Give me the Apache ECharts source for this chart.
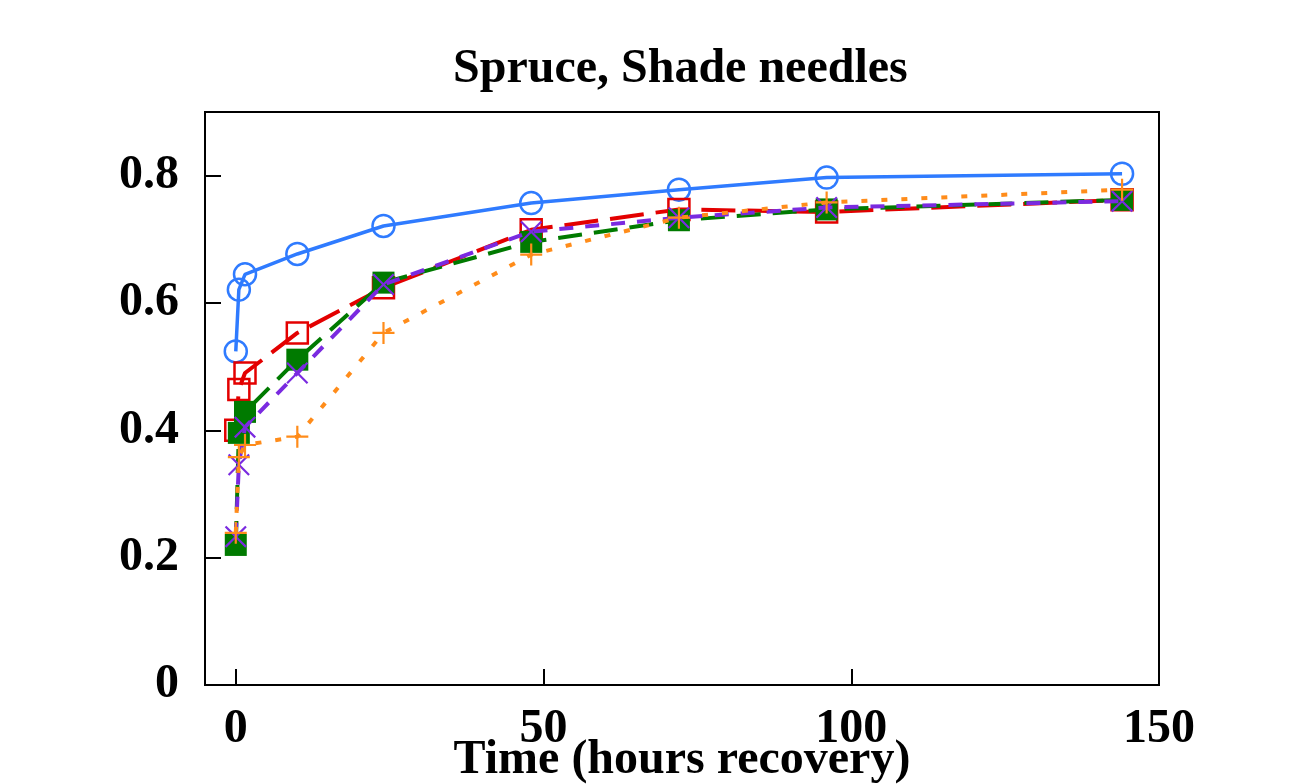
<!DOCTYPE html>
<html>
<head>
<meta charset="utf-8">
<script src="https://cdn.jsdelivr.net/npm/echarts@6/dist/echarts.min.js"></script>
<style>
html,body{margin:0;padding:0;background:#fff;}
#chart{width:1303px;height:784px;}
</style>
</head>
<body>
<div id="chart"></div>
<script>
const times = [0, 0.5, 1.5, 10, 24, 48, 72, 96, 144];
const blueVals   = [0.524, 0.621, 0.645, 0.677, 0.721, 0.757, 0.778, 0.797, 0.803];
const redVals    = [0.400, 0.464, 0.490, 0.553, 0.624, 0.715, 0.747, 0.743, 0.762];
const greenVals  = [0.220, 0.396, 0.429, 0.511, 0.632, 0.696, 0.730, 0.747, 0.762];
const purpleVals = [0.233, 0.346, 0.405, 0.490, 0.629, 0.712, 0.734, 0.750, 0.760];
const orangeVals = [0.239, 0.358, 0.377, 0.390, 0.553, 0.676, 0.734, 0.758, 0.778];
const xTickLabels = [0, 50, 100, 150];
const xTicks = [0, 50, 100];

const pts = v => times.map((t, i) => [t, v[i]]);
const font = '"Liberation Serif", "DejaVu Serif", serif';
const plusPath = 'path://M9,0H11V9H20V11H11V20H9V11H0V9H9Z';
const xPath = 'path://M0,1.4L1.4,0L10,8.6L18.6,0L20,1.4L11.4,10L20,18.6L18.6,20L10,11.4L1.4,20L0,18.6L8.6,10Z';

const chart = echarts.init(document.getElementById('chart'), null, {renderer: 'canvas'});
chart.setOption({
  animation: false,
  backgroundColor: '#fff',
  title: {
    text: 'Spruce, Shade needles',
    left: 448,
    top: 41,
    textStyle: {fontFamily: font, fontWeight: 'bold', fontSize: 48, color: '#000'}
  },
  grid: {
    left: 205, right: 144, top: 112, bottom: 99,
    outerBoundsMode: 'none', containLabel: false,
    show: true, borderColor: '#000', borderWidth: 2, backgroundColor: '#fff'
  },
  xAxis: {
    type: 'value', min: -5, max: 150,
    name: 'Time (hours recovery)', nameLocation: 'middle', nameGap: 52, nameMoveOverlap: false,
    nameTextStyle: {fontFamily: font, fontWeight: 'bold', fontSize: 48, color: '#000'},
    axisLine: {show: true, onZero: false, lineStyle: {color: '#000', width: 2}},
    axisTick: {show: true, inside: true, length: 16, customValues: xTicks, lineStyle: {color: '#000', width: 2}},
    axisLabel: {customValues: xTickLabels, fontFamily: font, fontWeight: 'bold', fontSize: 48, color: '#000', margin: 21},
    splitLine: {show: false}
  },
  yAxis: {
    type: 'value', min: 0, max: 0.9, interval: 0.2,
    axisLine: {show: true, onZero: false, lineStyle: {color: '#000', width: 2}},
    axisTick: {show: true, inside: true, length: 16, lineStyle: {color: '#000', width: 2}},
    axisLabel: {
      fontFamily: font, fontWeight: 'bold', fontSize: 48, color: '#000', margin: 26,
      formatter: v => (v > 0.85 ? '' : String(Math.round(v * 10) / 10))
    },
    splitLine: {show: false}
  },
  series: [
    {
      type: 'line', data: pts(blueVals), symbol: 'circle', symbolSize: 22,
      lineStyle: {color: '#2f7bff', width: 3.5, type: 'solid'},
      itemStyle: {color: 'rgba(0,0,0,0)', borderColor: '#2f7bff', borderWidth: 2.5},
      z: 2
    },
    {
      type: 'line', data: pts(redVals), symbol: 'rect', symbolSize: 21,
      lineStyle: {color: '#e30000', width: 4, type: [34, 12]},
      itemStyle: {color: 'rgba(0,0,0,0)', borderColor: '#e30000', borderWidth: 2.5},
      z: 3
    },
    {
      type: 'line', data: pts(greenVals), symbol: 'rect', symbolSize: 22,
      lineStyle: {color: '#007a00', width: 4, type: [24, 12]},
      itemStyle: {color: '#007a00', borderColor: '#007a00', borderWidth: 0},
      z: 4
    },
    {
      type: 'line', data: pts(purpleVals), symbol: xPath, symbolSize: 22,
      lineStyle: {color: '#7a2ae0', width: 4, type: [14, 12]},
      itemStyle: {color: '#7a2ae0', borderWidth: 0},
      z: 5
    },
    {
      type: 'line', data: pts(orangeVals), symbol: plusPath, symbolSize: 22,
      lineStyle: {color: '#ff8c1a', width: 4, type: [6, 14]},
      itemStyle: {color: '#ff8c1a', borderWidth: 0},
      z: 6
    }
  ]
});
</script>
</body>
</html>
